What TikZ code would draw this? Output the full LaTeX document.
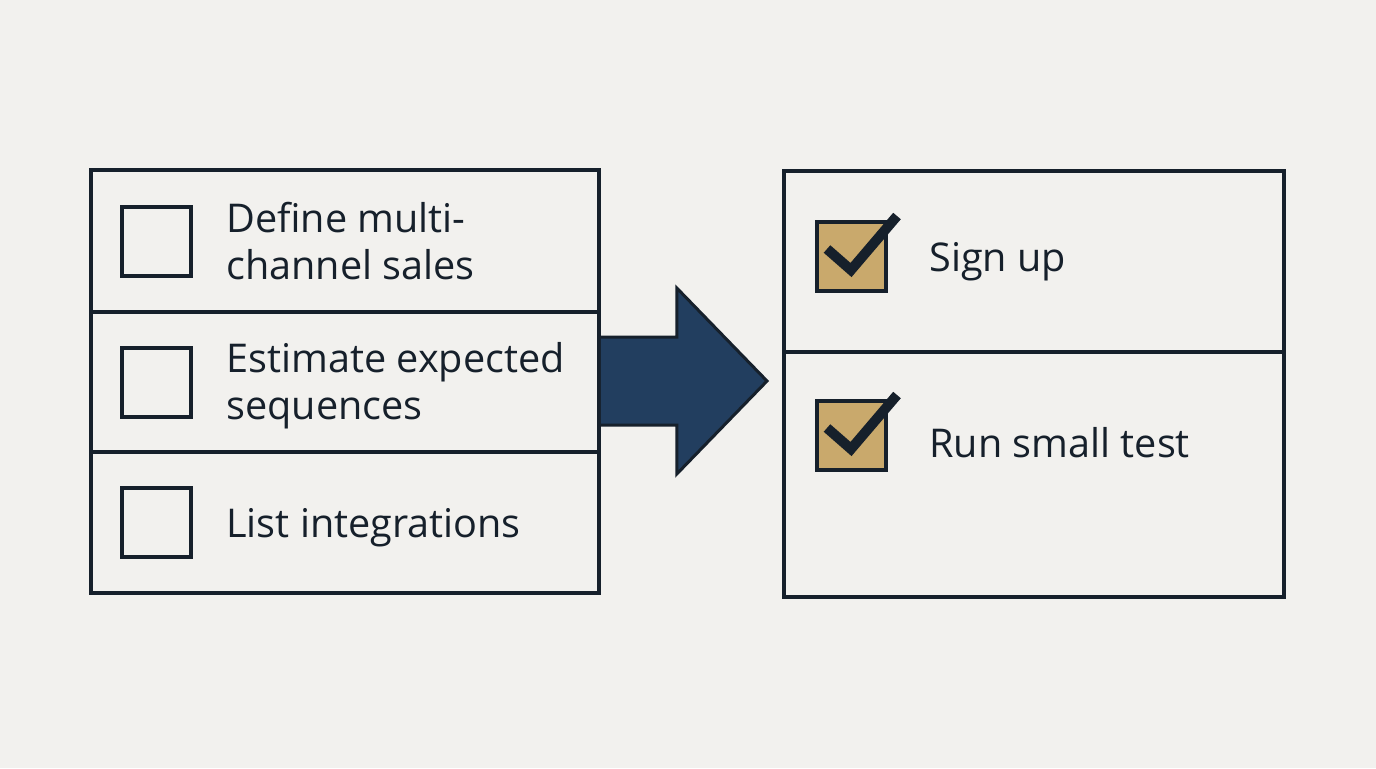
\documentclass[tikz,border=0pt]{standalone}
\usepackage{fontspec}
\setmainfont{Open Sans}
\usetikzlibrary{calc}
\definecolor{bg}{HTML}{F2F1EE}
\definecolor{ink}{HTML}{16202B}
\definecolor{navy}{HTML}{223E5F}
\definecolor{tan}{HTML}{C9A96C}
\begin{document}
\begin{tikzpicture}[x=0.5pt,y=-0.5pt,
  row/.style={draw=ink,line width=1.8pt,rectangle,inner sep=0pt},
  lrow/.style={row,minimum width=254pt},
  rrow/.style={row,minimum width=250pt},
  cbox/.style={draw=ink,line width=2pt,rectangle,inner sep=0pt,minimum width=34.5pt,minimum height=34.5pt},
  cdone/.style={cbox,fill=tan},
  tick/.style={draw=ink,line width=5pt,line join=miter},
  label/.style={text=ink,font=\fontsize{19.8pt}{23.5pt}\selectfont,align=left,inner sep=0pt,anchor=base west},
  bigarrow/.style={fill=navy,draw=ink,line width=1.5pt,line join=miter}
]
\fill[bg] (0,0) rectangle (1376,768);
\useasboundingbox (0,0) rectangle (1376,768);

\coordinate (atip) at (767,381);

% left panel rows
\node[lrow,minimum height=71pt] (L1) at (345,241) {};
\node[lrow,minimum height=70pt] (L2) at (345,382) {};
\node[lrow,minimum height=70.5pt] (L3) at (345,522.5) {};

% right panel rows
\node[rrow,minimum height=90.5pt] (R1) at (1034,261.5) {};
\node[rrow,minimum height=122.5pt] (R2) at (1034,474.5) {};

% big arrow from left panel towards right panel
\draw[bigarrow] ($(L2.east)+(0,-45)$) -- ++(76,0) -- ++(0,-49) -- (atip)
  -- ($(L2.east)+(76,92)$) -- ++(0,-49) -- ($(L2.east)+(0,43)$);

% checkboxes left
\node[cbox] (c1) at (156.5,241.5) {};
\node[cbox] (c2) at (156.5,382) {};
\node[cbox] (c3) at (156.5,522) {};

% checkboxes right
\node[cdone] (d1) at (851,256) {};
\node[cdone] (d2) at (851,435) {};
\draw[tick] ($(d1.center)+(-24,-7)$) -- ($(d1.center)+(0,14)$) -- ($(d1.center)+(46,-40)$);
\draw[tick] ($(d2.center)+(-24,-7)$) -- ($(d2.center)+(0,14)$) -- ($(d2.center)+(46,-40)$);

% labels (base = last line baseline)
\node[label] (t1) at (226,279) {Define multi-\\channel sales};
\node[label] (t2) at (226,419) {Estimate expected\\sequences};
\node[label] (t3) at (226,537) {List integrations};
\node[label] (t4) at (929,271) {Sign up};
\node[label] (t5) at (929,457) {Run small test};
\end{tikzpicture}
\end{document}
